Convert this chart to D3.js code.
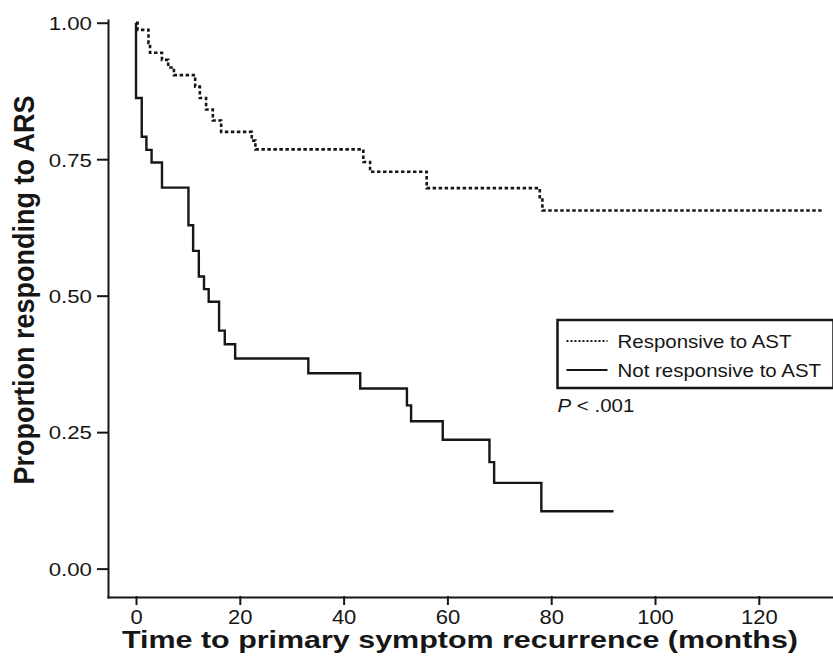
<!DOCTYPE html>
<html>
<head>
<meta charset="utf-8">
<script src="https://cdn.jsdelivr.net/npm/d3@7"></script>
<style>
  body { margin: 0; background: #fff; }
  svg { display: block; }
  text { font-family: "Liberation Sans", Arial, Helvetica, sans-serif; fill: #161616; }
</style>
</head>
<body>
<div id="chart"></div>
<script>
// Kaplan-Meier steps (months -> proportion still responding)
var respTimes = [0, 0.3, 2.4, 2.7, 5.0, 6.2, 7.3, 11.4, 12.3, 13.5, 14.8, 16.4, 22.3, 23.0, 43.8, 45.1, 56.0, 77.8, 78.3, 132.1];
var respProp  = [1.0, 0.987, 0.963, 0.945, 0.932, 0.918, 0.904, 0.883, 0.862, 0.841, 0.821, 0.800, 0.784, 0.768, 0.745, 0.727, 0.697, 0.676, 0.656, 0.656];

var nonTimes = [0, 0, 1.1, 2.0, 3.0, 5.0, 10.1, 11.0, 12.1, 13.1, 14.0, 16.0, 17.1, 19.1, 33.2, 43.2, 52.2, 53.0, 59.1, 68.1, 69.0, 78.1, 92.0];
var nonProp  = [1.0, 0.862, 0.791, 0.767, 0.744, 0.698, 0.629, 0.582, 0.535, 0.512, 0.489, 0.436, 0.411, 0.385, 0.358, 0.330, 0.299, 0.270, 0.236, 0.195, 0.157, 0.105, 0.105];

var seriesNames = ["Responsive to AST", "Not responsive to AST"];
var xTicks = [0, 20, 40, 60, 80, 100, 120];
var yTicks = [0, 0.25, 0.5, 0.75, 1];

var width = 833, height = 656;

var svg = d3.select('#chart').append('svg')
    .attr('width', width)
    .attr('height', height);

var x = d3.scaleLinear().domain([-5.4, 140]).range([108, 862.6]);
var y = d3.scaleLinear().domain([-0.052, 1.005]).range([597, 20]);

// axes
var xAxis = svg.append('g')
    .attr('transform', 'translate(0,597)')
    .call(d3.axisBottom(x).tickValues(xTicks).tickSize(7).tickSizeOuter(0));
xAxis.selectAll('text')
    .attr('y', 27).attr('dy', 0)
    .attr('transform', 'scale(1.1,1)')
    .style('font-size', '20px');

var yAxis = svg.append('g')
    .attr('transform', 'translate(108,0)')
    .call(d3.axisLeft(y).tickValues(yTicks).tickFormat(d3.format('.2f')).tickSize(10).tickSizeOuter(0));
yAxis.selectAll('text')
    .attr('x', -13.7).attr('dy', '0.36em')
    .attr('transform', 'scale(1.17,1)')
    .style('font-size', '19px');

svg.selectAll('.domain, .tick line')
    .attr('stroke', '#161616')
    .attr('stroke-width', 2)
    .attr('stroke-linecap', 'square');

// curves
var line = d3.line()
    .x(function (d) { return x(d[0]); })
    .y(function (d) { return y(d[1]); })
    .curve(d3.curveStepAfter);

svg.append('path')
    .datum(d3.zip(respTimes, respProp))
    .attr('d', line)
    .attr('fill', 'none')
    .attr('stroke', '#161616')
    .attr('stroke-width', 2.6)
    .attr('stroke-dasharray', '3.5,2.5');

svg.append('path')
    .datum(d3.zip(nonTimes, nonProp))
    .attr('d', line)
    .attr('fill', 'none')
    .attr('stroke', '#161616')
    .attr('stroke-width', 2.4);

// axis titles
svg.append('text')
    .attr('x', 460).attr('y', 648)
    .attr('text-anchor', 'middle')
    .attr('textLength', 676)
    .attr('lengthAdjust', 'spacingAndGlyphs')
    .style('font-size', '24px')
    .style('font-weight', 'bold')
    .text('Time to primary symptom recurrence (months)');

svg.append('text')
    .attr('transform', 'translate(34,290) rotate(-90) scale(1,1.1)')
    .attr('text-anchor', 'middle')
    .style('font-size', '27px')
    .style('font-weight', 'bold')
    .text('Proportion responding to ARS');

// legend
var legend = svg.append('g').attr('transform', 'translate(557.5,320)');
legend.append('rect')
    .attr('width', 276).attr('height', 68)
    .attr('fill', '#fff')
    .attr('stroke', '#161616')
    .attr('stroke-width', 2.5);

var rows = legend.selectAll('.legend')
    .data(seriesNames)
    .enter().append('g')
    .attr('class', 'legend')
    .attr('transform', function (d, i) { return 'translate(0,' + (21 + i * 29) + ')'; });

rows.append('line')
    .attr('x1', 9).attr('x2', 50)
    .attr('stroke', '#161616')
    .attr('stroke-width', function (d, i) { return i === 0 ? 2 : 1.8; })
    .attr('stroke-dasharray', function (d, i) { return i === 0 ? '2,2' : null; });

rows.append('text')
    .attr('transform', 'translate(60,6.5) scale(1.17,1)')
    .style('font-size', '17.5px')
    .text(function (d) { return d; });

var pval = svg.append('text')
    .attr('transform', 'translate(557.5,412) scale(1.17,1)')
    .style('font-size', '17.5px');
pval.append('tspan').style('font-style', 'italic').text('P');
pval.append('tspan').text(' < .001');
</script>
</body>
</html>
